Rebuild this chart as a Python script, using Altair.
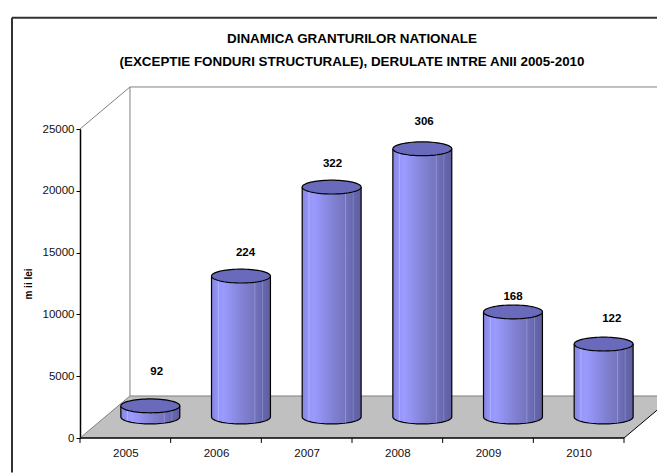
import altair as alt
import numpy as np
import pandas as pd

years = ["2005", "2006", "2007", "2008", "2009", "2010"]
values = [900, 11400, 18600, 21700, 8500, 5900]
counts = ["92", "224", "322", "306", "168", "122"]
label_lift = [2750, 1900, 1850, 2200, 1200, 2000]
label_shift = [0.07, 0.05, 0.01, 0.02, 0.0, 0.09]
y_ticks = [0, 5000, 10000, 15000, 20000, 25000]
title_lines = ["DINAMICA GRANTURILOR NATIONALE",
               "(EXCEPTIE FONDURI STRUCTURALE), DERULATE INTRE ANII 2005-2010"]
title_levels = [32280, 30420]

DX, DY = 0.551, 3400      # depth of the 3D box in data units
RX, RY = 0.325, 560       # cylinder ellipse radii
XMIN, XMAX = -0.75, 6.37  # frame left, chart right
YTOP, YBOT = 34000, -2800 # frame top, chart bottom

t = np.linspace(0, np.pi, 37)
tt = np.linspace(0, 2 * np.pi, 73)
body, outline, top = [], [], []
for i, (yr, val) in enumerate(zip(years, values)):
    cx = i + 0.5 + DX / 2
    base = DY / 2
    crown = val + DY / 2
    xs = cx - RX * np.cos(t)
    for k, x in enumerate(xs):
        low = base - RY * np.sin(t[k])
        body.append(dict(year=yr, x=x, y=crown, y2=low))
        outline.append(dict(year=yr, x=x, y=low, o=k + 1))
    outline.append(dict(year=yr, x=cx - RX, y=crown, o=0))
    outline.append(dict(year=yr, x=cx + RX, y=crown, o=99))
    for k, a in enumerate(tt):
        top.append(dict(year=yr, x=cx - RX * np.cos(a), y=crown - RY * np.sin(a), o=k))
body, outline, top = map(pd.DataFrame, (body, outline, top))

labels = pd.DataFrame({
    "x": [i + 0.5 + DX / 2 + s for i, s in enumerate(label_shift)],
    "y": [v + DY / 2 + l for v, l in zip(values, label_lift)],
    "t": counts,
})

xs_scale = alt.Scale(domain=[0, 6], nice=False, zero=False)
ys_scale = alt.Scale(domain=[0, 25000], nice=False, zero=False)
X = lambda f="x", **k: alt.X(f, type="quantitative", scale=xs_scale, **k)
Y = lambda f="y", **k: alt.Y(f, type="quantitative", scale=ys_scale, **k)

x_axis = alt.Axis(values=[0.5, 1.5, 2.5, 3.5, 4.5, 5.5], title=None, grid=False, domain=False,
                  tickSize=0, labelPadding=9, labelFont="Liberation Sans", labelFontSize=11.5,
                  labelColor="#111", labelAngle=0,
                  labelExpr="['2005','2006','2007','2008','2009','2010'][floor(datum.value)]")
y_axis = alt.Axis(values=y_ticks, title="m ii  lei", grid=False, domain=True, domainColor="#000",
                  domainWidth=1.5, tickColor="#000", tickSize=4, tickWidth=1, labelPadding=2,
                  labelFont="Liberation Sans", labelFontSize=11.5, labelColor="#111", format="d",
                  titleFont="Liberation Sans", titleFontSize=10, titleFontWeight="bold",
                  titleColor="#000", titlePadding=9)

floor = pd.DataFrame({
    "x": [0, DX, 6, XMAX],
    "y": [0, DY, DY, DY],
    "y2": [0, 0, 0, (XMAX - 6) / DX * DY],
})
floor_df = alt.Chart(floor).mark_area(color="#c0c0c0").encode(
    x=X(axis=x_axis), y=Y(axis=y_axis), y2="y2")

def poly(xs, ys, color="#808080", width=1):
    d = pd.DataFrame({"x": xs, "y": ys, "o": range(len(xs))})
    return alt.Chart(d).mark_line(color=color, strokeWidth=width).encode(
        x=X(), y=Y(), order="o:Q")

walls = [
    poly([0, DX, DX], [25000, 25000 + DY, DY]),
    poly([DX, XMAX], [25000 + DY, 25000 + DY]),
    poly([0, DX, XMAX], [0, DY, DY]),
    poly([6, XMAX], [0, (XMAX - 6) / DX * DY], "#000000", 1),
]
frame = [
    poly([XMIN, XMIN], [YBOT, YTOP], "#333333", 2),
    poly([XMIN, XMAX], [YTOP, YTOP], "#333333", 2),
]
base_line = poly([0, 6], [0, 0], "#000000", 1.5)
ticks = alt.Chart(pd.DataFrame({"x": list(range(7)), "y": [0] * 7, "y2": [-400] * 7})).mark_rule(
    color="#000", strokeWidth=1).encode(x=X(), y=Y(), y2="y2")

grad = alt.Gradient(gradient="linear", x1=0, x2=1, y1=0, y2=0, stops=[
    alt.GradientStop(offset=0, color="#8585e0"),
    alt.GradientStop(offset=0.1, color="#9393f5"),
    alt.GradientStop(offset=0.115, color="#b4b4ff"),
    alt.GradientStop(offset=0.13, color="#9797fb"),
    alt.GradientStop(offset=0.2, color="#9a9aff"),
    alt.GradientStop(offset=0.55, color="#8080d0"),
    alt.GradientStop(offset=0.72, color="#7474bf"),
    alt.GradientStop(offset=0.735, color="#9494d4"),
    alt.GradientStop(offset=0.75, color="#7272bc"),
    alt.GradientStop(offset=0.85, color="#6868b0"),
    alt.GradientStop(offset=0.865, color="#8484c4"),
    alt.GradientStop(offset=0.88, color="#6666ac"),
    alt.GradientStop(offset=1, color="#5e5ea0"),
])
bodies = alt.Chart(body).mark_area(fill=grad).encode(x=X(), y=Y(), y2="y2", detail="year:N")
edges = alt.Chart(outline).mark_line(color="#000", strokeWidth=1.2).encode(
    x=X(), y=Y(), order="o:Q", detail="year:N")
tops = alt.Chart(top).mark_line(color="#000", strokeWidth=1.2, fill="#6a6abc").encode(
    x=X(), y=Y(), order="o:Q", detail="year:N")
texts = alt.Chart(labels).mark_text(font="Liberation Sans", fontSize=11.5, fontWeight="bold",
                                    color="#000").encode(x=X(), y=Y(), text="t:N")
title_df = pd.DataFrame({"x": [3.0, 3.0], "y": title_levels, "t": title_lines})
title = alt.Chart(title_df).mark_text(font="Liberation Sans", fontSize=13.4, fontWeight="bold",
                                      color="#000").encode(x=X(), y=Y(), text="t:N")

chart = alt.layer(floor_df, *walls, *frame, base_line, ticks, bodies, edges, tops, texts, title).properties(
    width=544, height=309,
    padding={"left": 0, "top": 5, "right": -5, "bottom": 0},
).configure_view(stroke=None)

chart.save("out.html", embed_options={"renderer": "svg", "actions": False})
